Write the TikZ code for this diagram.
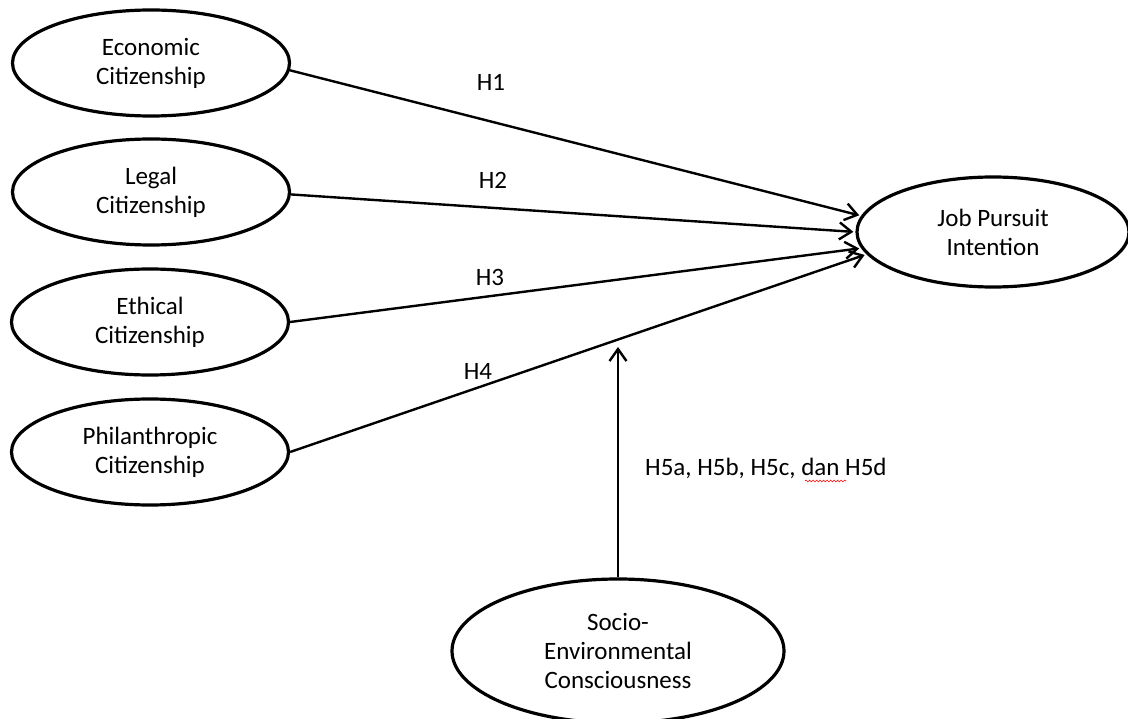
\documentclass[tikz,border=0pt]{standalone}
\usepackage{fontspec}
\setmainfont{Carlito}
\usetikzlibrary{shapes.geometric,arrows.meta,decorations.pathmorphing}
\begin{document}
\begin{tikzpicture}[x=1pt,y=-1pt,
  construct/.style={draw, ellipse, line width=3.2pt, inner sep=0pt, align=center,
    font=\fontsize{25}{29}\selectfont},
  small/.style={construct, minimum width=277pt, minimum height=106pt},
  path/.style={line width=2.4pt, shorten >=2pt, -{Straight Barb[length=12pt,width=17pt,line width=2.4pt]}},
  hlabel/.style={font=\fontsize{25}{29}\selectfont, inner sep=0pt}]
\useasboundingbox (0,0) rectangle (1128,719);
\node[small] (econ) at (151,63) {Economic\\Citizenship};
\node[small] (legal) at (151,192) {Legal\\Citizenship};
\node[small] (ethic) at (150,322) {Ethical\\Citizenship};
\node[small] (phil) at (150,452) {Philanthropic\\Citizenship};
\node[construct, minimum width=272pt, minimum height=110pt] (job) at (993,232) {Job Pursuit\\Intention};
\node[construct, minimum width=332pt, minimum height=144pt] (socio) at (618,651) {Socio-\\Environmental\\Consciousness};
\coordinate (mod) at (618,347);
\draw[path] (econ.-3) -- (job.173);
\draw[path] (legal.-1.5) -- (job.180);
\draw[path] (ethic.0.8) -- (job.187.5);
\draw[path] (phil.0.8) -- (job.190.5);
\draw[path, shorten >=0pt] (socio.north) -- (mod);
\node[hlabel] (h1) at (491,82) {H1};
\node[hlabel] (h2) at (493,180) {H2};
\node[hlabel] (h3) at (490,277) {H3};
\node[hlabel] (h4) at (478,371) {H4};
\node[hlabel, anchor=west] (h5) at (645,468) {H5a, H5b, H5c, dan H5d};
\draw[red, line width=0.6pt, decorate, decoration={snake, amplitude=0.9pt, segment length=3.5pt}] (805,481) -- (846,481);
\end{tikzpicture}
\end{document}
